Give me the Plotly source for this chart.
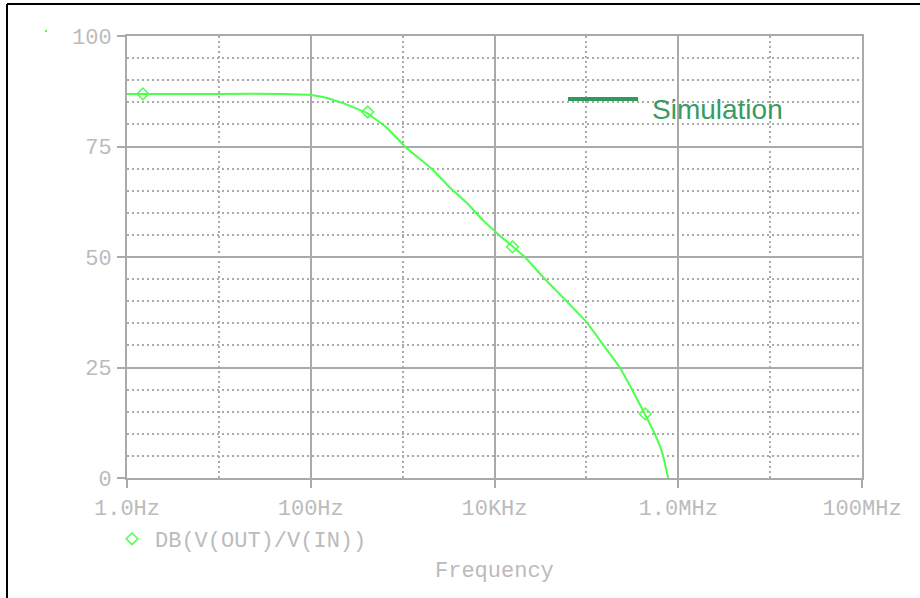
import plotly.graph_objects as go

# ---- data ----
freq_hz = [1, 10, 50, 95, 134.9, 223.9, 407.4, 676.1, 1071.5, 2138, 3236, 5012, 7413,
           11220, 21380, 34670, 60260, 100000, 147900, 229100, 316200, 426600,
           549500, 676100, 776200]
gain_db = [86.9, 86.9, 86.9, 86.7, 86.2, 84.8, 82.6, 79.2, 74.9, 69.7, 65.8, 62.2, 58.4,
           55.0, 50.0, 45.2, 40.1, 35.3, 30.5, 25.1, 19.9, 14.7, 10.2, 5.4, 0.0]
marker_hz = [1.49, 417, 15700, 437000]
marker_db = [86.9, 82.8, 52.3, 14.5]

x_tickvals = [1, 100, 1e4, 1e6, 1e8]
x_ticktext = ["1.0Hz", "100Hz", "10KHz", "1.0MHz", "100MHz"]
x_minorvals = [10, 1e3, 1e5, 1e7]
y_tickvals = [0, 25, 50, 75, 100]

trace_name = "DB(V(OUT)/V(IN))"
note_text = "Simulation"
x_title = "Frequency"

GREEN = "#4dff4d"
GRID = "#aaaaaa"
TXT = "#bbbbbb"
MONO = "Liberation Mono, Courier New, monospace"

W, H = 920, 598
# target plot area in page pixels: x 127..862, y 36..478
L, T = 127, 36
R = W - 862
B = H - 478
pw, ph = W - L - R, H - T - B


def px(x):
    return (x - L) / pw


def py(y):
    return (H - B - y) / ph


fig = go.Figure()
fig.add_trace(go.Scatter(x=freq_hz, y=gain_db, mode="lines",
                         line=dict(color=GREEN, width=2, shape="spline", smoothing=0.3),
                         showlegend=False, hoverinfo="skip"))
fig.add_trace(go.Scatter(x=marker_hz, y=marker_db, mode="markers",
                         marker=dict(symbol="diamond-open", size=9, color=GREEN,
                                     line=dict(width=1.5, color=GREEN)),
                         showlegend=False))
# legend entry (marker only)
fig.add_trace(go.Scatter(x=[None], y=[None], mode="markers", name=trace_name,
                         marker=dict(symbol="diamond-open", size=9, color=GREEN,
                                     line=dict(width=1.5, color=GREEN))))

fig.update_layout(
    width=W, height=H,
    margin=dict(l=L, r=R, t=T, b=B),
    paper_bgcolor="white", plot_bgcolor="white",
    font=dict(family=MONO, size=22, color=TXT),
    showlegend=True,
    legend=dict(x=px(109), y=py(539), xanchor="left", yanchor="middle",
                bgcolor="rgba(0,0,0,0)", borderwidth=0, itemwidth=36,
                font=dict(family=MONO, size=22, color=TXT)),
    xaxis=dict(type="log", range=[0, 8], tickvals=x_tickvals, ticktext=x_ticktext,
               showgrid=True, gridcolor=GRID, gridwidth=2,
               showline=True, linecolor=GRID, linewidth=2, mirror=True,
               ticks="outside", ticklen=8, tickwidth=2, tickcolor=GRID,
               ticklabelstandoff=1, zeroline=False,
               tickfont=dict(family=MONO, size=22, color=TXT),
               minor=dict(tickvals=x_minorvals, showgrid=True, gridcolor=GRID,
                          gridwidth=1.5, griddash="2px,3px", ticks="")),
    yaxis=dict(range=[0, 100], tickvals=y_tickvals,
               showgrid=True, gridcolor=GRID, gridwidth=2,
               showline=True, linecolor=GRID, linewidth=2, mirror=True,
               ticks="outside", ticklen=8, tickwidth=2, tickcolor=GRID,
               ticklabelstandoff=1, zeroline=False,
               tickfont=dict(family=MONO, size=22, color=TXT),
               minor=dict(dtick=5, showgrid=True, gridcolor=GRID,
                          gridwidth=1.5, griddash="2px,3px", ticks="")),
)

shapes = [
    # outer black frame (left and top)
    dict(type="line", xref="paper", yref="paper", x0=px(7), x1=px(7),
         y0=py(4), y1=py(610), line=dict(color="black", width=2)),
    dict(type="line", xref="paper", yref="paper", x0=px(7), x1=px(930),
         y0=py(4), y1=py(4), line=dict(color="black", width=2)),
    # "Simulation" key line
    dict(type="line", xref="paper", yref="paper", x0=px(568), x1=px(638),
         y0=py(99), y1=py(99), line=dict(color="#2e9a60", width=4)),
    # tiny green dot at top-left
    dict(type="rect", xref="paper", yref="paper", x0=px(45), x1=px(47),
         y0=py(30), y1=py(32), line=dict(width=0), fillcolor=GREEN),
]
fig.update_layout(shapes=shapes)

fig.add_annotation(text=note_text, xref="paper", yref="paper", x=px(650), y=py(110),
                   xanchor="left", yanchor="middle", showarrow=False,
                   font=dict(family="Liberation Sans, Arial, sans-serif", size=28,
                             color="#3a9a66"))
fig.add_annotation(text=x_title, xref="paper", yref="paper", x=px(494), y=py(571),
                   xanchor="center", yanchor="middle", showarrow=False,
                   font=dict(family=MONO, size=22, color=TXT))

fig.write_html("out.html", config={"displayModeBar": False},
               post_script="document.body.style.margin='0';document.body.style.padding='0';")
